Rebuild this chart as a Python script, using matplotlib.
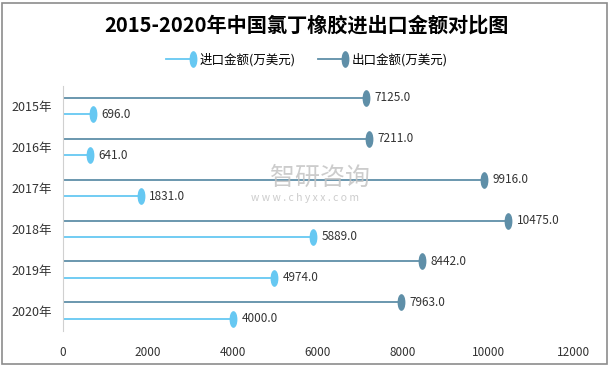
import numpy as np
import matplotlib
matplotlib.use('Agg')
import matplotlib.pyplot as plt
from matplotlib.path import Path
from matplotlib.patches import Rectangle
from matplotlib.lines import Line2D
from matplotlib.legend_handler import HandlerLine2D

plt.rcParams['font.family'] = ['Noto Sans CJK SC', 'DejaVu Sans']

## data
years = ['2015年', '2016年', '2017年', '2018年', '2019年', '2020年']
imports = [696.0, 641.0, 1831.0, 5889.0, 4974.0, 4000.0]
exports = [7125.0, 7211.0, 9916.0, 10475.0, 8442.0, 7963.0]
xticks = [0, 2000, 4000, 6000, 8000, 10000, 12000]

c_imp = '#66c8f2'
c_exp = '#5f8fa8'

# tall ellipse marker
circ = Path.unit_circle()
ellipse = Path(circ.vertices * np.array([0.42, 1.0]), circ.codes)


class EndMarker(HandlerLine2D):
    def create_artists(self, *args, **kw):
        arts = super().create_artists(*args, **kw)
        for a in arts:
            a.set_markevery([2])
        return arts


fig = plt.figure(figsize=(6.13, 3.69), dpi=100)
ax = fig.add_axes([0.1028, 0.103, 0.832, 0.665])

y = np.arange(len(years))
off = 0.2
for i in range(len(years)):
    ax.plot([0, exports[i]], [y[i] - off] * 2, color=c_exp, lw=1.3,
            marker=ellipse, markevery=[1], ms=11, mec=c_exp, mfc=c_exp)
    ax.plot([0, imports[i]], [y[i] + off] * 2, color=c_imp, lw=1.3,
            marker=ellipse, markevery=[1], ms=11, mec=c_imp, mfc=c_imp)
    ax.annotate('%.1f' % exports[i], (exports[i], y[i] - off), xytext=(6, 0),
                textcoords='offset points', va='center', ha='left',
                fontsize=8.5, color='#333333')
    ax.annotate('%.1f' % imports[i], (imports[i], y[i] + off), xytext=(6, 0),
                textcoords='offset points', va='center', ha='left',
                fontsize=8.5, color='#333333')

ax.set_xlim(0, 12000)
ax.set_ylim(len(years) - 0.5, -0.5)
ax.set_yticks(y)
ax.set_yticklabels(years, fontsize=9, color='#333333')
ax.set_xticks(xticks)
ax.set_xticklabels([str(t) for t in xticks], fontsize=8.5, color='#333333')
ax.tick_params(axis='both', length=0)
ax.tick_params(axis='y', pad=8)
ax.tick_params(axis='x', pad=11)
for s in ['top', 'right', 'bottom']:
    ax.spines[s].set_visible(False)
ax.spines['left'].set_color('#d0d0d0')

# watermark
fig.text(0.522, 0.518, '智研咨询', fontsize=18, color='#c4c4c4', ha='center', va='center', alpha=0.85)
fig.text(0.497, 0.463, 'w w w . c h y x x . c o m', fontsize=7.5, color='#c4c4c4', ha='center', va='center', alpha=0.85)

fig.suptitle('2015-2020年中国氯丁橡胶进出口金额对比图', y=0.96, fontsize=14.5,
             fontweight='bold', color='black')

h_imp = Line2D([], [], color=c_imp, lw=1.3, marker=ellipse, ms=11, mec=c_imp, mfc=c_imp)
h_exp = Line2D([], [], color=c_exp, lw=1.3, marker=ellipse, ms=11, mec=c_exp, mfc=c_exp)
fig.legend([h_imp, h_exp], ['进口金额(万美元)', '出口金额(万美元)'], loc='center',
           bbox_to_anchor=(0.5, 0.838), ncol=2, frameon=False, fontsize=9,
           handlelength=2.2, handletextpad=0.5, columnspacing=1.8,
           handler_map={Line2D: EndMarker()})

fig.patches.append(Rectangle((0.004, 0.013), 0.987, 0.98, transform=fig.transFigure,
                             fill=False, edgecolor='#8c8c8c', lw=1.2))

fig.savefig('out.png', dpi=100)
